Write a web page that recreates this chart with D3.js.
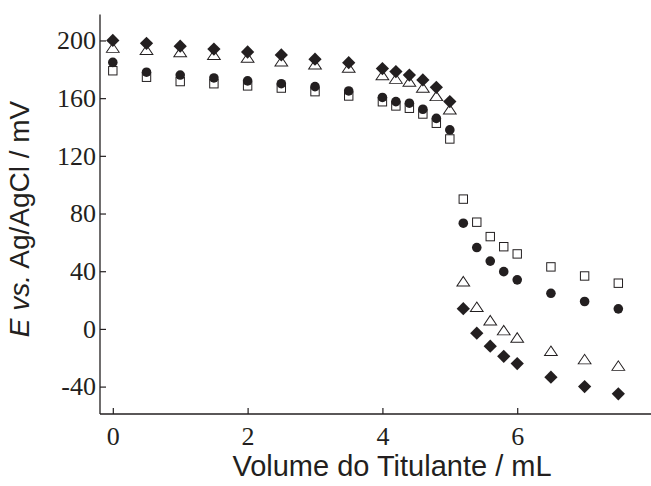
<!DOCTYPE html>
<html>
<head>
<meta charset="utf-8">
<script src="https://cdn.jsdelivr.net/npm/d3@7"></script>
<style>
  html, body { margin: 0; padding: 0; background: #ffffff; }
  svg { display: block; }
  .serif text { font-family: "Liberation Serif", "Times New Roman", Times, serif; font-size: 26px; }
</style>
</head>
<body>
<svg id="chart" width="651" height="486"></svg>
<script>
// ---- data ----
const volume = [0, 0.5, 1, 1.5, 2, 2.5, 3, 3.5, 4, 4.2, 4.4, 4.6, 4.8, 5.0, 5.2, 5.4, 5.6, 5.8, 6.0, 6.5, 7.0, 7.5];
const diamondSeries  = [200, 198, 196, 194, 192, 190, 187, 184.6, 180.5, 178.4, 176, 172.6, 167.5, 157.6, 14, -3, -12, -19, -24, -33.5, -40, -45];
const triangleSeries = [194.5, 193, 191.5, 189.5, 187.6, 185, 183, 180.7, 175.5, 173, 171, 166.8, 161, 151.8, 32.5, 14.8, 5.5, -1.4, -6.5, -15.7, -21.5, -26];
const circleSeries   = [184.8, 178, 176, 174, 172, 170, 168, 165, 160.5, 157.6, 156.5, 152.3, 146, 138, 73.3, 56.4, 47, 39.7, 34, 24.7, 19, 13.9];
const squareSeries   = [179, 174.5, 171.5, 170, 168.5, 167, 164.5, 161.5, 157.5, 154.6, 153, 149, 142.6, 131.7, 90, 74, 64, 57, 52, 43, 36.7, 31.7];
const xTicks = [0, 2, 4, 6];
const yTicks = [-40, 0, 40, 80, 120, 160, 200];
const xDomain = [-0.19, 7.97];
const yDomain = [-59, 218];
const xTitle = "Volume do Titulante / mL";

// ---- layout ----
const ink = "#231f20";
const svg = d3.select("#chart");
const x = d3.scaleLinear().domain(xDomain).range([100, 650]);
const y = d3.scaleLinear().domain(yDomain).range([414, 14.5]);

// axes
const xAxis = d3.axisBottom(x).tickValues(xTicks).tickSize(-6).tickPadding(13).tickFormat(d => String(d));
const yAxis = d3.axisLeft(y).tickValues(yTicks).tickSize(-6).tickPadding(4).tickFormat(d => String(d));

const gx = svg.append("g").attr("class", "serif").attr("transform", `translate(0,${y.range()[0]})`).call(xAxis);
const gy = svg.append("g").attr("class", "serif").attr("transform", `translate(${x.range()[0]},0)`).call(yAxis);

[gx, gy].forEach(g => {
  g.attr("font-family", "Liberation Serif").attr("font-size", 26);
  g.select(".domain").attr("stroke", ink).attr("stroke-width", 1.3);
  g.selectAll(".tick line").attr("stroke", ink).attr("stroke-width", 1.2);
  g.selectAll(".tick text").attr("fill", ink);
});
gx.select(".domain").attr("d", `M${x.range()[0]},0H${x.range()[1] + 1}`);
gy.select(".domain").attr("d", `M0,${y.range()[1]}V${y.range()[0]}`);

// ---- markers ----
const plot = svg.append("g");
const pts = s => volume.map((v, i) => ({ v, e: s[i] }));

// squares (open)
plot.append("g").selectAll("rect").data(pts(squareSeries)).join("rect")
  .attr("x", d => x(d.v) - 4.2).attr("y", d => y(d.e) - 4.2)
  .attr("width", 8.4).attr("height", 8.4)
  .attr("fill", "#fff").attr("stroke", ink).attr("stroke-width", 1);

// circles (filled)
plot.append("g").selectAll("circle").data(pts(circleSeries)).join("circle")
  .attr("cx", d => x(d.v)).attr("cy", d => y(d.e)).attr("r", 4.8)
  .attr("fill", ink);

// triangles (open)
const tri = d3.symbol().type(d3.symbolTriangle).size(64);
plot.append("g").selectAll("path").data(pts(triangleSeries)).join("path")
  .attr("d", tri)
  .attr("transform", d => `translate(${x(d.v)},${y(d.e) + 0.8}) scale(1.05,0.9)`)
  .attr("fill", "#fff").attr("stroke", ink).attr("stroke-width", 1);

// diamonds (filled)
const dia = d3.symbol().type(d3.symbolSquare).size(88);
plot.append("g").selectAll("path").data(pts(diamondSeries)).join("path")
  .attr("d", dia)
  .attr("transform", d => `translate(${x(d.v)},${y(d.e)}) rotate(45)`)
  .attr("fill", ink);

// ---- titles ----
svg.append("text")
  .attr("x", 392).attr("y", 476)
  .attr("text-anchor", "middle")
  .attr("fill", ink)
  .style("font-family", "'Liberation Sans', Arial, sans-serif")
  .style("font-size", "29px")
  .text(xTitle);

const yt = svg.append("text")
  .attr("transform", "translate(29,219) rotate(-90)")
  .attr("text-anchor", "middle")
  .attr("fill", ink)
  .style("font-family", "'Liberation Sans', Arial, sans-serif")
  .style("font-size", "28px");
yt.append("tspan").style("font-style", "italic").text("E");
yt.append("tspan").text(" ");
yt.append("tspan").style("font-style", "italic").text("vs.");
yt.append("tspan").text(" Ag/AgCl / mV");
</script>
</body>
</html>
